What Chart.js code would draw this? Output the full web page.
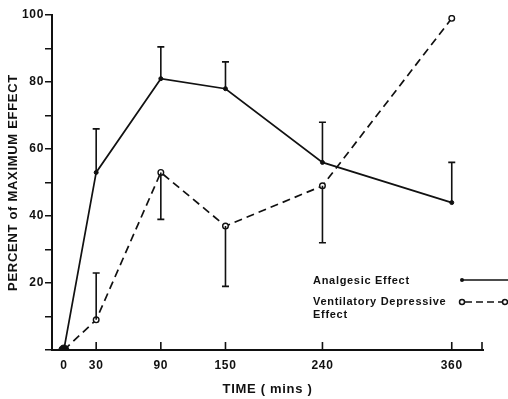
<!DOCTYPE html>
<html>
<head>
<meta charset="utf-8">
<script src="https://cdn.jsdelivr.net/npm/chart.js@4/dist/chart.umd.min.js"></script>
<style>
  html, body { margin: 0; padding: 0; background: #fff; }
  #wrap { width: 508px; height: 399px; }
</style>
</head>
<body>
<div id="wrap"><canvas id="chart"></canvas></div>
<script>
const times = [0, 30, 90, 150, 240, 360];
const xTickValues = [0, 30, 90, 150, 240, 360];

const analgesic = [0, 53, 81, 78, 56, 44];
const analgesicErrTop = [null, 66, 90.5, 86, 68, 56];

const ventilatory = [0, 9, 53, 37, 49, 99];
const ventilatoryErrEnd = [null, 23, 39, 19, 32, null];

const legendLabels = ['Analgesic Effect', ['Ventilatory Depressive', 'Effect']];

const FONT = '"Liberation Sans", Arial, sans-serif';
const INK = '#111';

// ======================
// ERROR BARS, INSIDE TICKS, LEGEND
// ======================

const extras = {
  id: 'extras',
  beforeDraw(chart) {
    // the typed originals are a little loosely spaced
    chart.ctx.letterSpacing = '0.7px';
  },
  afterDatasetsDraw(chart) {
    const ctx = chart.ctx;
    const x = chart.scales.x;
    const y = chart.scales.y;
    ctx.save();
    ctx.strokeStyle = INK;
    ctx.lineWidth = 1.6;

    const bars = [[analgesic, analgesicErrTop], [ventilatory, ventilatoryErrEnd]];
    bars.forEach(([vals, ends]) => {
      times.forEach((t, i) => {
        if (ends[i] == null) return;
        const px = x.getPixelForValue(t);
        const y0 = y.getPixelForValue(vals[i]);
        const y1 = y.getPixelForValue(ends[i]);
        ctx.beginPath();
        ctx.moveTo(px, y0);
        ctx.lineTo(px, y1);
        ctx.moveTo(px - 3.5, y1);
        ctx.lineTo(px + 3.5, y1);
        ctx.stroke();
      });
    });

    // x ticks pointing up into the plot
    const bottom = chart.chartArea.bottom;
    xTickValues.concat([x.max]).forEach(v => {
      if (v === 0) return;
      const px = Math.min(x.getPixelForValue(v), chart.chartArea.right - 1);
      ctx.beginPath();
      ctx.moveTo(px, bottom);
      ctx.lineTo(px, bottom - 8);
      ctx.stroke();
    });

    // legend
    ctx.fillStyle = INK;
    ctx.font = 'bold 11px ' + FONT;
    ctx.textBaseline = 'middle';
    ctx.textAlign = 'left';
    ctx.fillText(legendLabels[0], 313, 281);
    ctx.fillText(legendLabels[1][0], 313, 302);
    ctx.fillText(legendLabels[1][1], 313, 315);

    ctx.lineWidth = 1.5;
    ctx.beginPath();
    ctx.moveTo(462, 280);
    ctx.lineTo(508, 280);
    ctx.stroke();
    ctx.beginPath();
    ctx.arc(462, 280, 2, 0, Math.PI * 2);
    ctx.fill();

    ctx.setLineDash([7, 4]);
    ctx.beginPath();
    ctx.moveTo(465, 302);
    ctx.lineTo(503, 302);
    ctx.stroke();
    ctx.setLineDash([]);
    [462, 505].forEach(cx => {
      ctx.beginPath();
      ctx.arc(cx, 302, 2.5, 0, Math.PI * 2);
      ctx.fillStyle = '#fff';
      ctx.fill();
      ctx.stroke();
    });
    ctx.restore();
  },
  afterDraw(chart) {
    chart.ctx.letterSpacing = '0px';
  }
};

new Chart(
  document.getElementById('chart'),
  {
    type: 'line',

    data: {
      datasets: [{
        label: 'Analgesic Effect',
        data: times.map((t, i) => ({ x: t, y: analgesic[i] })),
        borderColor: INK,
        borderWidth: 1.7,
        backgroundColor: INK,
        pointBackgroundColor: INK,
        pointBorderColor: INK,
        pointRadius: [5, 2, 2, 2, 2, 2],
        pointBorderWidth: 1,
        tension: 0
      }, {
        label: 'Ventilatory Depressive Effect',
        data: times.map((t, i) => ({ x: t, y: ventilatory[i] })),
        borderColor: INK,
        borderWidth: 1.7,
        borderDash: [8, 5],
        pointBackgroundColor: '#fff',
        pointBorderColor: INK,
        pointRadius: [0, 2.8, 2.8, 2.8, 2.8, 2.8],
        pointBorderWidth: 1.4,
        tension: 0
      }]
    },

    options: {
      responsive: true,
      maintainAspectRatio: false,
      animation: false,
      layout: { padding: { top: 15, right: 25, left: 0, bottom: 0 } },
      plugins: {
        legend: { display: false },
        tooltip: { enabled: false }
      },
      scales: {
        x: {
          type: 'linear',
          min: -11,
          max: 389,
          afterBuildTicks: s => { s.ticks = xTickValues.map(v => ({ value: v })); },
          afterFit: s => { s.height = 49; },
          grid: { display: false, drawTicks: false },
          border: { display: true, color: INK, width: 2 },
          ticks: {
            color: INK,
            padding: 8,
            maxRotation: 0,
            autoSkip: false,
            font: { family: FONT, size: 12, weight: 'bold' }
          },
          title: {
            display: true,
            text: 'TIME ( mins )',
            color: INK,
            padding: { top: 0, bottom: 2 },
            font: { family: FONT, size: 13, weight: 'bold' }
          }
        },
        y: {
          min: 0,
          max: 100,
          afterFit: s => { s.width = 52; },
          grid: { drawOnChartArea: false, color: INK, lineWidth: 1.5, tickLength: 7 },
          border: { display: true, color: INK, width: 2 },
          ticks: {
            stepSize: 10,
            color: INK,
            padding: 1,
            callback: v => (v % 20 === 0 && v > 0 ? v : ''),
            font: { family: FONT, size: 12, weight: 'bold' }
          },
          title: {
            display: true,
            text: 'PERCENT of MAXIMUM EFFECT',
            color: INK,
            padding: { top: 6, bottom: 0 },
            font: { family: FONT, size: 13, weight: 'bold' }
          }
        }
      }
    },

    plugins: [extras]
  }
);
</script>
</body>
</html>
